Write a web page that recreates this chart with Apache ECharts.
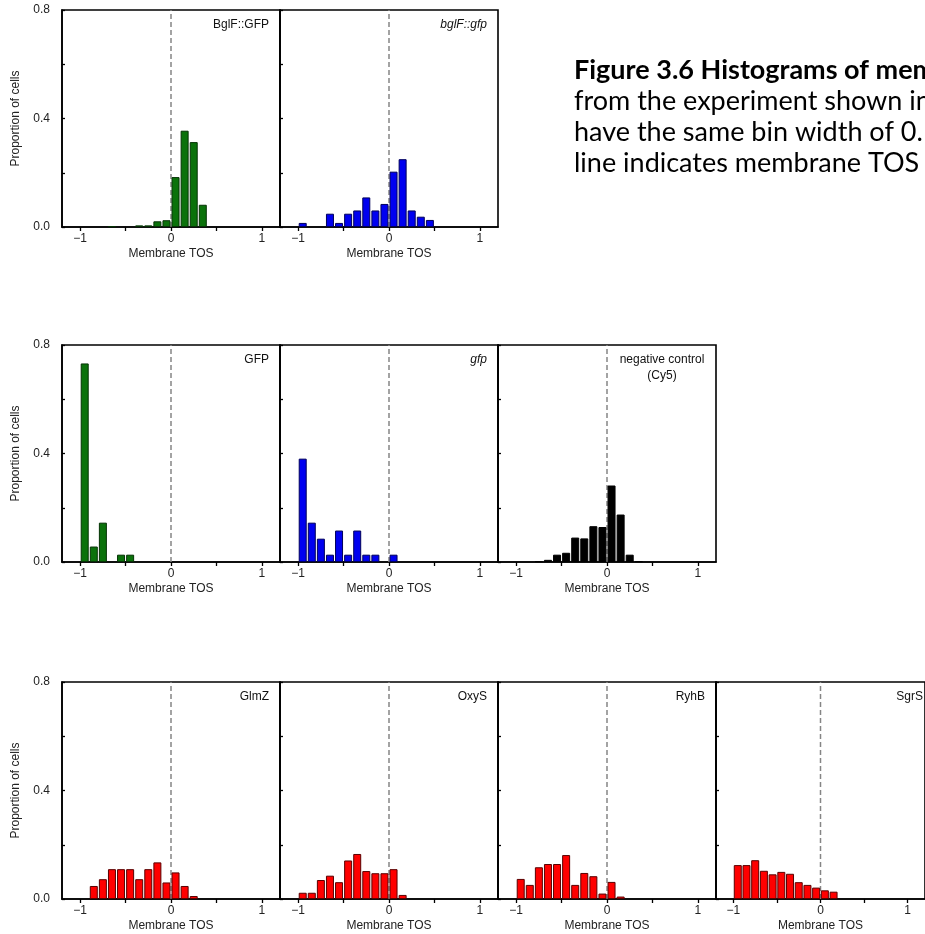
<!DOCTYPE html>
<html>
<head>
<meta charset="utf-8">
<title>Membrane TOS histograms</title>
<script src="https://cdn.jsdelivr.net/npm/echarts/dist/echarts.min.js"></script>
<style>
  body { margin: 0; background: #fff; }
  #chart { width: 925px; height: 934px; }
</style>
</head>
<body>
<div id="chart"></div>
<script>
// bin centres, bin width 0.1 from -1 to 1
var binCenters = [-0.95, -0.85, -0.75, -0.65, -0.55, -0.45, -0.35, -0.25, -0.15, -0.05,
                  0.05, 0.15, 0.25, 0.35, 0.45, 0.55, 0.65, 0.75, 0.85, 0.95];

var xTicks = [-1, -0.5, 0, 0.5, 1];
var xLabels = [-1, 0, 1];
var yTicks = [0, 0.2, 0.4, 0.6, 0.8];
var yLabels = [0, 0.4, 0.8];

// proportion of cells per bin
var bglfProtein = [0, 0, 0, 0.003, 0, 0, 0.006, 0.006, 0.021, 0.025, 0.184, 0.355, 0.313, 0.082, 0, 0, 0, 0, 0, 0];
var bglfRna     = [0.015, 0, 0, 0.049, 0.015, 0.049, 0.061, 0.109, 0.061, 0.085, 0.204, 0.250, 0.061, 0.038, 0.026, 0, 0, 0, 0, 0];
var gfpProtein  = [0.732, 0.057, 0.145, 0, 0.027, 0.027, 0, 0, 0, 0, 0, 0, 0, 0, 0, 0, 0, 0, 0, 0];
var gfpRna      = [0.381, 0.145, 0.086, 0.027, 0.116, 0.027, 0.116, 0.027, 0.027, 0, 0.027, 0, 0, 0, 0, 0, 0, 0, 0, 0];
var negCy5      = [0, 0, 0.003, 0.008, 0.027, 0.034, 0.090, 0.087, 0.132, 0.129, 0.282, 0.175, 0.027, 0.003, 0, 0, 0, 0, 0, 0];
var glmZ        = [0, 0.048, 0.073, 0.110, 0.110, 0.110, 0.073, 0.110, 0.135, 0.061, 0.098, 0.048, 0.011, 0, 0, 0, 0, 0, 0, 0];
var oxyS        = [0.023, 0.023, 0.070, 0.086, 0.062, 0.142, 0.166, 0.103, 0.095, 0.095, 0.110, 0.015, 0, 0, 0, 0, 0, 0, 0, 0];
var ryhB        = [0.074, 0.052, 0.117, 0.129, 0.129, 0.162, 0.052, 0.096, 0.084, 0.020, 0.063, 0.009, 0, 0, 0, 0, 0, 0, 0, 0];
var sgrS        = [0.125, 0.125, 0.143, 0.104, 0.091, 0.100, 0.093, 0.062, 0.052, 0.042, 0.032, 0.027, 0, 0, 0, 0, 0, 0, 0, 0];

var zeroLine = [[0, 0], [0, 0.8]];

var captionLines = [
    'Figure 3.6 Histograms of membrane TOS',
    'from the experiment shown in Figure 3.5.',
    'have the same bin width of 0.1. Dashed',
    'line indicates membrane TOS = 0.'
];

var FONT = '"Liberation Sans", Arial, sans-serif';
var GREEN = { fill: '#0b720b', border: '#053305' };
var BLUE = { fill: '#0000f0', border: '#00005a' };
var BLACK = { fill: '#000000', border: '#000000' };
var RED = { fill: '#ff0000', border: '#5a0000' };

var colLeft = [62, 280, 498, 716];
var rowTop = [10, 345, 682];
var panelW = 218, panelH = 217;

var panels = [
    { row: 0, col: 0, name: 'BglF::GFP', italic: false, values: bglfProtein, color: GREEN },
    { row: 0, col: 1, name: 'bglF::gfp', italic: true, values: bglfRna, color: BLUE },
    { row: 1, col: 0, name: 'GFP', italic: false, values: gfpProtein, color: GREEN },
    { row: 1, col: 1, name: 'gfp', italic: true, values: gfpRna, color: BLUE },
    { row: 1, col: 2, name: 'negative control\n(Cy5)', italic: false, center: true, values: negCy5, color: BLACK },
    { row: 2, col: 0, name: 'GlmZ', italic: false, values: glmZ, color: RED },
    { row: 2, col: 1, name: 'OxyS', italic: false, values: oxyS, color: RED },
    { row: 2, col: 2, name: 'RyhB', italic: false, values: ryhB, color: RED },
    { row: 2, col: 3, name: 'SgrS', italic: false, values: sgrS, color: RED }
];

var grids = [], xAxes = [], yAxes = [], series = [], graphics = [];

panels.forEach(function (p, i) {
    var left = colLeft[p.col], top = rowTop[p.row];
    grids.push({
        left: left, top: top, width: panelW, height: panelH,
        show: true, borderColor: '#000', borderWidth: 1.6, backgroundColor: 'transparent'
    });
    xAxes.push({
        gridIndex: i, type: 'value', min: -1.2, max: 1.2,
        name: 'Membrane TOS', nameLocation: 'middle', nameGap: 21,
        nameTextStyle: { fontFamily: FONT, fontSize: 12, color: '#222' },
        axisLine: { show: true, onZero: false, lineStyle: { color: '#000', width: 1.6 } },
        axisTick: { show: true, length: 4, customValues: xTicks, lineStyle: { color: '#000', width: 1.3 } },
        axisLabel: {
            customValues: xLabels, margin: 6, fontFamily: FONT, fontSize: 12, color: '#222',
            formatter: function (v) { return v < 0 ? '\u2212' + Math.abs(v) : String(v); }
        },
        splitLine: { show: false }
    });
    var first = p.col === 0;
    yAxes.push({
        gridIndex: i, type: 'value', min: 0, max: 0.8, interval: 0.2,
        name: first ? 'Proportion of cells' : '', nameLocation: 'middle', nameGap: 40, nameRotate: 90,
        nameTextStyle: { fontFamily: FONT, fontSize: 12, color: '#222' },
        axisLine: { show: true, onZero: false, lineStyle: { color: '#000', width: 1.6 } },
        axisTick: { show: true, inside: true, length: 3, customValues: yTicks, lineStyle: { color: '#000', width: 1.3 } },
        axisLabel: {
            show: first, customValues: yLabels, margin: 12, fontFamily: FONT, fontSize: 12, color: '#222',
            formatter: function (v) { return v.toFixed(1); }
        },
        splitLine: { show: false }
    });
    series.push({
        type: 'line', xAxisIndex: i, yAxisIndex: i, data: zeroLine,
        symbol: 'none', silent: true, z: 1,
        lineStyle: { color: '#858585', width: 1.5, type: [5, 3] }
    });
    series.push({
        type: 'bar', xAxisIndex: i, yAxisIndex: i, z: 3, barWidth: 8,
        data: binCenters.map(function (c, j) { return [c, p.values[j]]; })
                        .filter(function (d) { return d[1] > 0; }),
        itemStyle: { color: p.color.fill, borderColor: p.color.border, borderWidth: 1 }
    });
    graphics.push({
        type: 'text',
        x: p.center ? left + panelW - 54 : left + panelW - 11,
        y: top + 7,
        style: {
            text: p.name,
            textAlign: p.center ? 'center' : 'right',
            textVerticalAlign: 'top',
            font: (p.italic ? 'italic ' : '') + '12px ' + FONT,
            fill: '#111',
            lineHeight: 16
        }
    });
});

captionLines.forEach(function (line, k) {
    graphics.push({
        type: 'text', x: 574, y: 70 + k * 31,
        style: {
            text: line, textVerticalAlign: 'middle',
            font: (k === 0 ? 'bold ' : '') + '27px Lato, "Open Sans", sans-serif',
            fill: '#000'
        }
    });
});

var myChart = echarts.init(document.getElementById('chart'));
var option = {
    backgroundColor: '#fff',
    animation: false,
    grid: grids,
    xAxis: xAxes,
    yAxis: yAxes,
    series: series,
    graphic: graphics
};
myChart.setOption(option);
</script>
</body>
</html>
